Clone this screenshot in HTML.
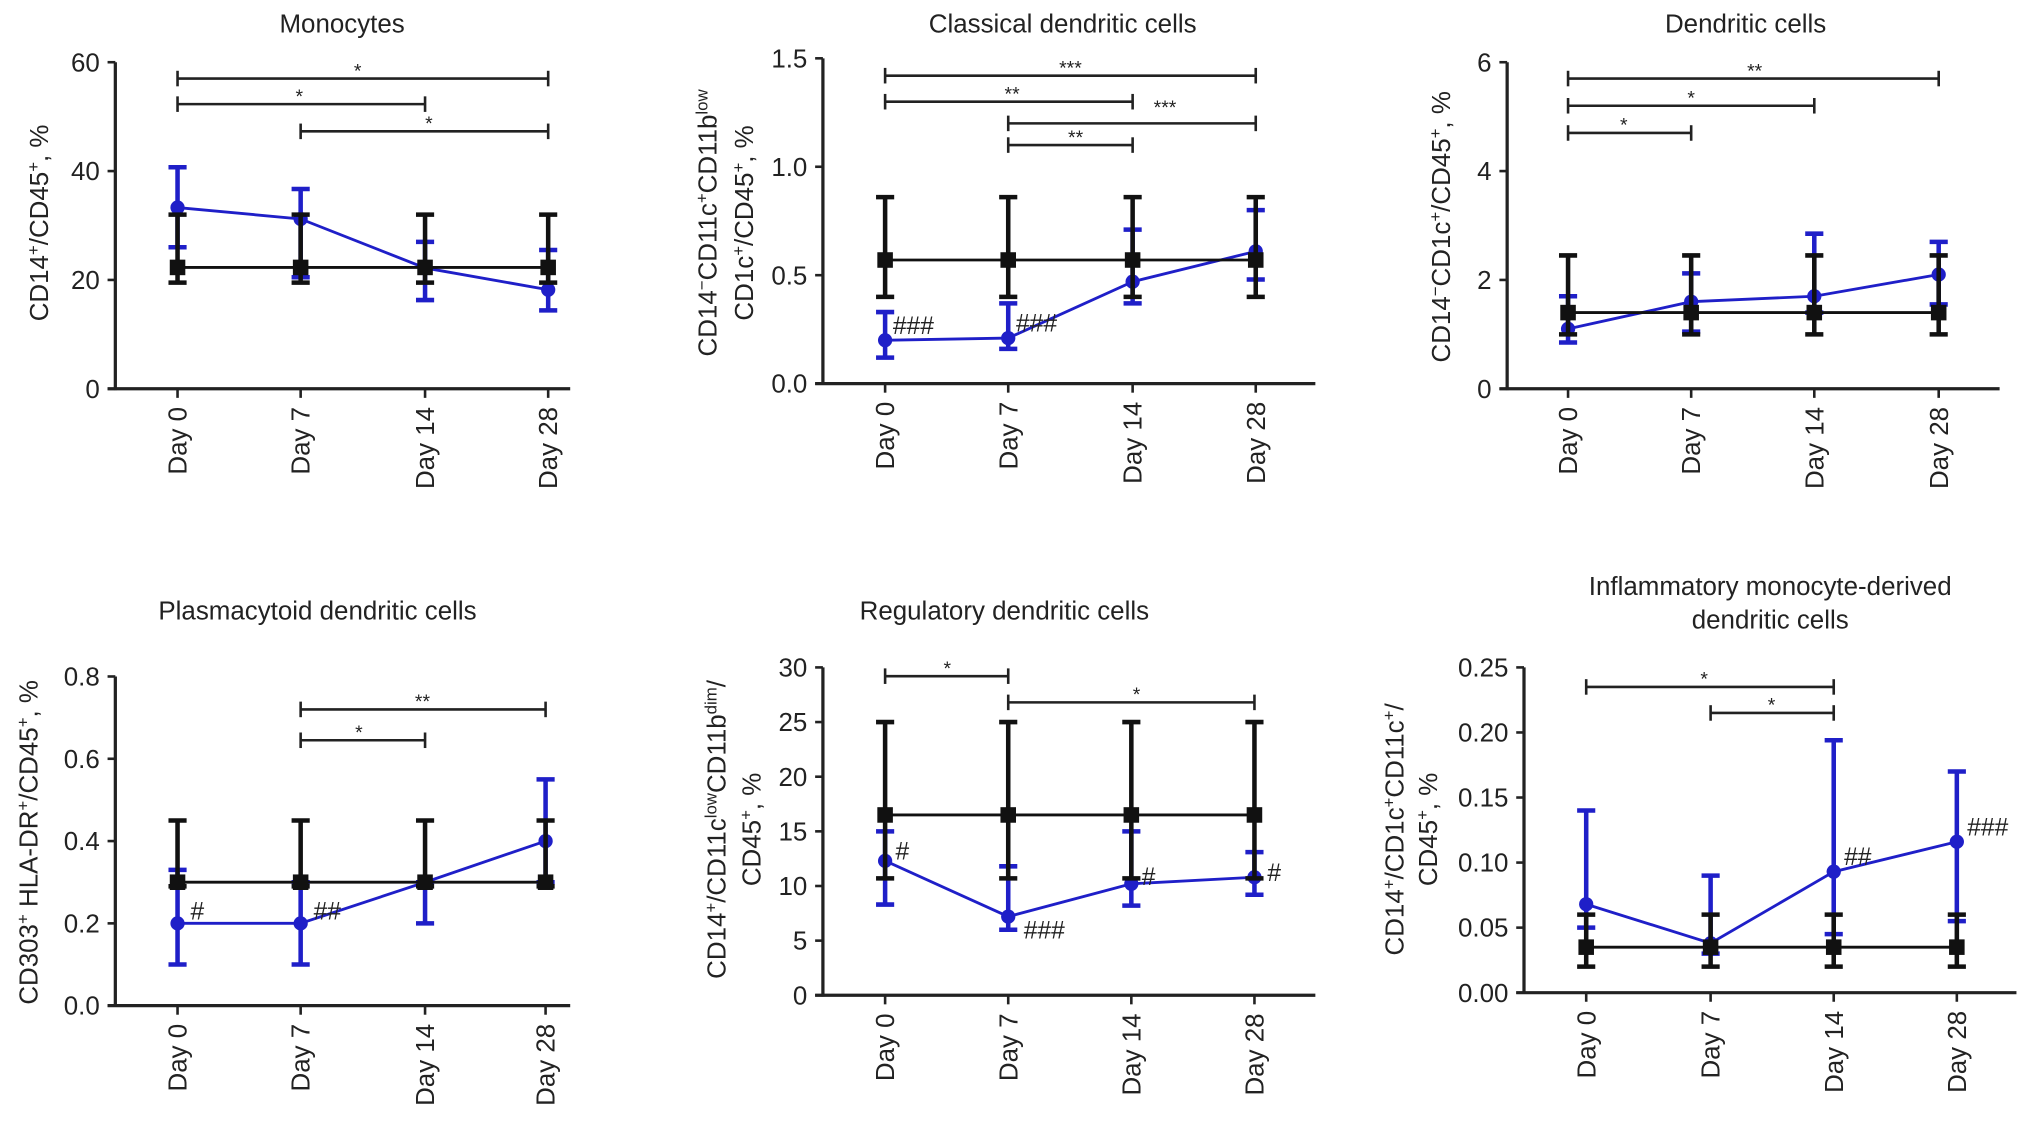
<!DOCTYPE html>
<html><head><meta charset="utf-8">
<style>
html,body{margin:0;padding:0;background:#fff;}
svg{display:block;}
text{font-family:"Liberation Sans",Arial,sans-serif;fill:#222;}
</style></head>
<body>
<svg id="fig" xmlns="http://www.w3.org/2000/svg" width="2032" height="1128" viewBox="0 0 1568 870.4"></svg>
<script>
const days = ["Day 0","Day 7","Day 14","Day 28"];
// Panel 1 Monocytes
const p1Ticks = [0,20,40,60];
const p1Black = [22.3,22.3,22.3,22.3];
const p1BlackLo = [19.5,19.5,19.5,19.5];
const p1BlackHi = [32,32,32,32];
const p1Blue = [33.3,31.2,22.2,18.2];
const p1BlueLo = [26,20.5,16.3,14.4];
const p1BlueHi = [40.7,36.7,27,25.5];
// Panel 2 Classical DC
const p2Ticks = [0,0.5,1.0,1.5];
const p2Black = [0.57,0.57,0.57,0.57];
const p2BlackLo = [0.40,0.40,0.40,0.40];
const p2BlackHi = [0.86,0.86,0.86,0.86];
const p2Blue = [0.20,0.21,0.47,0.61];
const p2BlueLo = [0.12,0.16,0.37,0.48];
const p2BlueHi = [0.33,0.37,0.71,0.80];
// Panel 3 DC
const p3Ticks = [0,2,4,6];
const p3Black = [1.4,1.4,1.4,1.4];
const p3BlackLo = [1.0,1.0,1.0,1.0];
const p3BlackHi = [2.45,2.45,2.45,2.45];
const p3Blue = [1.1,1.6,1.7,2.1];
const p3BlueLo = [0.85,1.05,1.4,1.55];
const p3BlueHi = [1.7,2.12,2.85,2.7];
// Panel 4 pDC
const p4Ticks = [0,0.2,0.4,0.6,0.8];
const p4Black = [0.3,0.3,0.3,0.3];
const p4BlackLo = [0.29,0.29,0.29,0.29];
const p4BlackHi = [0.45,0.45,0.45,0.45];
const p4Blue = [0.2,0.2,0.3,0.4];
const p4BlueLo = [0.1,0.1,0.2,0.3];
const p4BlueHi = [0.33,0.3,0.3,0.55];
// Panel 5 regulatory DC
const p5Ticks = [0,5,10,15,20,25,30];
const p5Black = [16.5,16.5,16.5,16.5];
const p5BlackLo = [10.7,10.7,10.7,10.7];
const p5BlackHi = [25,25,25,25];
const p5Blue = [12.3,7.2,10.2,10.8];
const p5BlueLo = [8.3,6.0,8.2,9.2];
const p5BlueHi = [15,11.8,15,13.1];
// Panel 6 inflammatory moDC
const p6Ticks = [0,0.05,0.10,0.15,0.20,0.25];
const p6Black = [0.035,0.035,0.035,0.035];
const p6BlackLo = [0.02,0.02,0.02,0.02];
const p6BlackHi = [0.06,0.06,0.06,0.06];
const p6Blue = [0.068,0.038,0.093,0.116];
const p6BlueLo = [0.05,0.03,0.045,0.055];
const p6BlueHi = [0.14,0.09,0.194,0.17];

const NS="http://www.w3.org/2000/svg";
const svg=document.getElementById('fig');
function mk(tag,attrs,parent){const e=document.createElementNS(NS,tag);for(const k in attrs)e.setAttribute(k,attrs[k]);(parent||svg).appendChild(e);return e;}

const panels=[
 {name:'monocytes',ax:89,y0:300,yt:48,max:60,xs:[137,232,328,423],xe:440,ticks:p1Ticks,fmt:v=>String(v),
  black:[p1Black,p1BlackLo,p1BlackHi],blue:[p1Blue,p1BlueLo,p1BlueHi],
  title:[["Monocytes",264,25]],
  ylab:[{x:30,y:172,html:'CD14<tspan baseline-shift="super" font-size="13">+</tspan>/CD45<tspan baseline-shift="super" font-size="13">+</tspan>, %'}],
  brackets:[[0,3,57,'*',276],[0,2,52.3,'*',231],[1,3,47.3,'*',331]],hashes:[]},
 {name:'classical-dc',ax:635,y0:296,yt:45,max:1.5,xs:[683,778,874,969],xe:1015,ticks:p2Ticks,fmt:v=>v.toFixed(1),
  black:[p2Black,p2BlackLo,p2BlackHi],blue:[p2Blue,p2BlueLo,p2BlueHi],
  title:[["Classical dendritic cells",820,25]],
  ylab:[{x:546,y:172,html:'CD14<tspan baseline-shift="super" font-size="13">−</tspan>CD11c<tspan baseline-shift="super" font-size="13">+</tspan>CD11b<tspan baseline-shift="super" font-size="13">low</tspan>'},
        {x:574,y:172,html:'CD1c<tspan baseline-shift="super" font-size="13">+</tspan>/CD45<tspan baseline-shift="super" font-size="13">+</tspan>, %'}],
  brackets:[[0,3,1.42,'***',826],[0,2,1.30,'**',781],[1,3,1.20,'',0],[1,2,1.10,'**',830]],
  extra:[['***',899,88]],
  hashes:[['###',0,0.2,6,-12],['###',1,0.21,6,-12]]},
 {name:'dendritic-cells',ax:1163,y0:300,yt:48,max:6,xs:[1210,1305,1400,1496],xe:1543,ticks:p3Ticks,fmt:v=>String(v),
  black:[p3Black,p3BlackLo,p3BlackHi],blue:[p3Blue,p3BlueLo,p3BlueHi],
  title:[["Dendritic cells",1347,25]],
  ylab:[{x:1112,y:175,html:'CD14<tspan baseline-shift="super" font-size="13">−</tspan>CD1c<tspan baseline-shift="super" font-size="13">+</tspan>/CD45<tspan baseline-shift="super" font-size="13">+</tspan>, %'}],
  brackets:[[0,3,5.7,'**',1354],[0,2,5.2,'*',1305],[0,1,4.7,'*',1253]],hashes:[]},
 {name:'plasmacytoid-dc',ax:89,y0:776,yt:522,max:0.8,xs:[137,232,328,421],xe:440,ticks:p4Ticks,fmt:v=>v.toFixed(1),
  black:[p4Black,p4BlackLo,p4BlackHi],blue:[p4Blue,p4BlueLo,p4BlueHi],
  title:[["Plasmacytoid dendritic cells",245,478]],
  ylab:[{x:22,y:650,html:'CD303<tspan baseline-shift="super" font-size="13">+</tspan> HLA-DR<tspan baseline-shift="super" font-size="13">+</tspan>/CD45<tspan baseline-shift="super" font-size="13">+</tspan>, %'}],
  brackets:[[1,3,0.72,'**',326],[1,2,0.645,'*',277]],
  hashes:[['#',0,0.2,10,-10],['##',1,0.2,10,-10]]},
 {name:'regulatory-dc',ax:635,y0:768,yt:515,max:30,xs:[683,778,873,968],xe:1015,ticks:p5Ticks,fmt:v=>String(v),
  black:[p5Black,p5BlackLo,p5BlackHi],blue:[p5Blue,p5BlueLo,p5BlueHi],
  title:[["Regulatory dendritic cells",775,478]],
  ylab:[{x:553,y:640,html:'CD14<tspan baseline-shift="super" font-size="13">+</tspan>/CD11c<tspan baseline-shift="super" font-size="13">low</tspan>CD11b<tspan baseline-shift="super" font-size="13">dim</tspan>/'},
        {x:580,y:640,html:'CD45<tspan baseline-shift="super" font-size="13">+</tspan>, %'}],
  brackets:[[0,1,29.2,'*',731],[1,3,26.8,'*',877]],
  hashes:[['#',0,12.3,8,-8],['###',1,7.2,12,10],['#',2,10.2,8,-6],['#',3,10.8,10,-4]]},
 {name:'inflammatory-modc',ax:1176,y0:766,yt:515,max:0.25,xs:[1224,1320,1415,1510],xe:1556,ticks:p6Ticks,fmt:v=>v.toFixed(2),
  black:[p6Black,p6BlackLo,p6BlackHi],blue:[p6Blue,p6BlueLo,p6BlueHi],
  title:[["Inflammatory monocyte-derived",1366,459],["dendritic cells",1366,485]],
  ylab:[{x:1076,y:640,html:'CD14<tspan baseline-shift="super" font-size="13">+</tspan>/CD1c<tspan baseline-shift="super" font-size="13">+</tspan>CD11c<tspan baseline-shift="super" font-size="13">+</tspan>/'},
        {x:1102,y:640,html:'CD45<tspan baseline-shift="super" font-size="13">+</tspan>, %'}],
  brackets:[[0,2,0.235,'*',1315],[1,2,0.215,'*',1367]],
  hashes:[['##',2,0.093,8,-12],['###',3,0.116,8,-12]]}
];

panels.forEach(p=>{
  const g=mk('g',{});
  
  
  const Y=v=>p.y0-(v/p.max)*(p.y0-p.yt);
  p.title.forEach(t=>{const e=mk('text',{x:t[1],y:t[2],'text-anchor':'middle','font-size':20},g);e.textContent=t[0];
    });
  p.ylab.forEach(l=>{const e=mk('text',{x:l.x,y:l.y,'text-anchor':'middle','font-size':20,transform:`rotate(-90 ${l.x} ${l.y})`,dy:7},g);e.innerHTML=l.html;
    });
  // axes
  const ya=mk('line',{x1:p.ax,y1:p.yt,x2:p.ax,y2:p.y0+1,stroke:'#222','stroke-width':2.5},g);
  
  const xa=mk('line',{x1:p.ax-6,y1:p.y0,x2:p.xe,y2:p.y0,stroke:'#222','stroke-width':2.5},g);
  
  p.ticks.forEach(t=>{
    mk('line',{x1:p.ax-6,y1:Y(t),x2:p.ax,y2:Y(t),stroke:'#222','stroke-width':2},g);
    const e=mk('text',{x:p.ax-12,y:Y(t)+7,'text-anchor':'end','font-size':20},g);e.textContent=p.fmt(t);
    
  });
  p.xs.forEach((x,i)=>{
    mk('line',{x1:x,y1:p.y0,x2:x,y2:p.y0+7,stroke:'#222','stroke-width':2},g);
    const e=mk('text',{x:x,y:p.y0+14,'text-anchor':'end','font-size':20,transform:`rotate(-90 ${x} ${p.y0+14})`,dy:7},g);e.textContent=days[i];
    
  });
  // brackets
  p.brackets.forEach(b=>{
    const x1=p.xs[b[0]],x2=p.xs[b[1]],y=Y(b[2]);
    const bg=mk('g',{},g);
    
    mk('line',{x1:x1,y1:y,x2:x2,y2:y,stroke:'#222','stroke-width':2},bg);
    mk('line',{x1:x1,y1:y-6,x2:x1,y2:y+6,stroke:'#222','stroke-width':2},bg);
    mk('line',{x1:x2,y1:y-6,x2:x2,y2:y+6,stroke:'#222','stroke-width':2},bg);
    if(b[3]){const e=mk('text',{x:b[4],y:y-1,'text-anchor':'middle','font-size':15},bg);e.textContent=b[3];}
  });
  (p.extra||[]).forEach(s=>{const e=mk('text',{x:s[1],y:s[2],'text-anchor':'middle','font-size':15},g);e.textContent=s[0];
    });
  function series(d,color,isBlack){
    const sg=mk('g',{},g);
    
    
    const [m,lo,hi]=d;
    m.forEach((v,i)=>{const x=p.xs[i];
      mk('line',{x1:x,y1:Y(lo[i]),x2:x,y2:Y(hi[i]),stroke:color,'stroke-width':3.5},sg);
      mk('line',{x1:x-7,y1:Y(lo[i]),x2:x+7,y2:Y(lo[i]),stroke:color,'stroke-width':3.5},sg);
      mk('line',{x1:x-7,y1:Y(hi[i]),x2:x+7,y2:Y(hi[i]),stroke:color,'stroke-width':3.5},sg);
    });
    mk('polyline',{points:m.map((v,i)=>p.xs[i]+','+Y(v)).join(' '),fill:'none',stroke:color,'stroke-width':2.2},sg);
    m.forEach((v,i)=>{const x=p.xs[i];
      let e;
      if(isBlack) e=mk('rect',{x:x-6,y:Y(v)-6,width:12,height:12,fill:color},sg);
      else e=mk('circle',{cx:x,cy:Y(v),r:5.5,fill:color},sg);
      
      
    });
  }
  series(p.blue,'#1f1fc8',false);
  series(p.black,'#111',true);
  p.hashes.forEach(h=>{const e=mk('text',{x:p.xs[h[1]]+h[3],y:Y(h[2])+h[4]+7,'font-size':19},g);e.textContent=h[0];
    });
});
</script>
</body></html>
